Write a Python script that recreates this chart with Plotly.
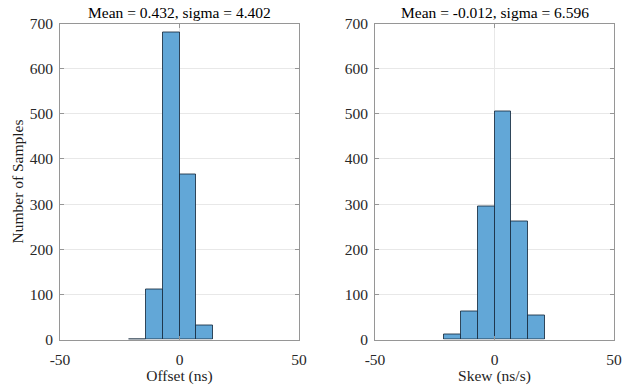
import plotly.graph_objects as go

# Histogram bin edges and counts for each panel
offset_edges = [-21, -14, -7, 0, 7, 14]
offset_counts = [1, 111, 679, 366, 30]

skew_edges = [-21, -14, -7, 0, 7, 14, 21]
skew_counts = [11, 61, 295, 504, 262, 53]

titles = ["Mean = 0.432, sigma = 4.402", "Mean = -0.012, sigma = 6.596"]
x_titles = ["Offset (ns)", "Skew (ns/s)"]
x_ticks = [-50, 0, 50]
x_tick_labels = ["-50", "0", "50"]
y_ticks = [0, 100, 200, 300, 400, 500, 600, 700]

FONT = "Liberation Serif, Times New Roman, serif"
FS = 15.5
FILL = "rgb(98,167,215)"
EDGE = "rgba(25,45,65,0.85)"
FRAME = "rgb(150,150,150)"
GRID = "rgb(232,232,232)"


def bar_trace(edges, counts, xa, ya):
    centers = [(a + b) / 2 for a, b in zip(edges[:-1], edges[1:])]
    widths = [b - a for a, b in zip(edges[:-1], edges[1:])]
    return go.Bar(
        x=centers, y=counts, width=widths,
        marker=dict(color=FILL, line=dict(color=EDGE, width=1)),
        xaxis=xa, yaxis=ya, showlegend=False,
    )


fig = go.Figure()
fig.add_trace(bar_trace(offset_edges, offset_counts, "x", "y"))
fig.add_trace(bar_trace(skew_edges, skew_counts, "x2", "y2"))

x_domains = [[60 / 636, 299 / 636], [375 / 636, 614 / 636]]
y_domain = [1 - 339.5 / 385, 1 - 23.5 / 385]

common_axis = dict(
    showline=True, linecolor=FRAME, linewidth=1, mirror="ticks",
    ticks="inside", ticklen=4, tickcolor=FRAME,
    showgrid=True, gridcolor=GRID, gridwidth=1, zeroline=False,
    automargin=False,
    tickfont=dict(family=FONT, size=FS, color="rgb(40,40,40)"),
)

layout = dict(
    width=636, height=385,
    margin=dict(l=0, r=0, t=0, b=0),
    paper_bgcolor="white", plot_bgcolor="white",
    bargap=0,
    font=dict(family=FONT, size=FS, color="rgb(30,30,30)"),
)
for i, name in enumerate(["", "2"]):
    layout["xaxis" + name] = dict(
        common_axis, domain=x_domains[i], range=[-50, 50],
        tickvals=x_ticks, ticktext=x_tick_labels,
        anchor="y" + name, ticklabelstandoff=6,
        title=dict(text=x_titles[i], font=dict(family=FONT, size=FS), standoff=12),
    )
    layout["yaxis" + name] = dict(
        common_axis, domain=y_domain, range=[0, 700],
        tickvals=y_ticks, anchor="x" + name, ticklabelstandoff=3,
    )
layout["yaxis"]["title"] = dict(text="Number of Samples", font=dict(family=FONT, size=FS), standoff=2)
fig.update_layout(**layout)

for i, t in enumerate(titles):
    fig.add_annotation(
        text=t, xref="paper", yref="paper",
        x=sum(x_domains[i]) / 2, y=1 - 12 / 385,
        xanchor="center", yanchor="middle", showarrow=False,
        font=dict(family=FONT, size=FS, color="black"),
    )

fig.write_html("out.html")
